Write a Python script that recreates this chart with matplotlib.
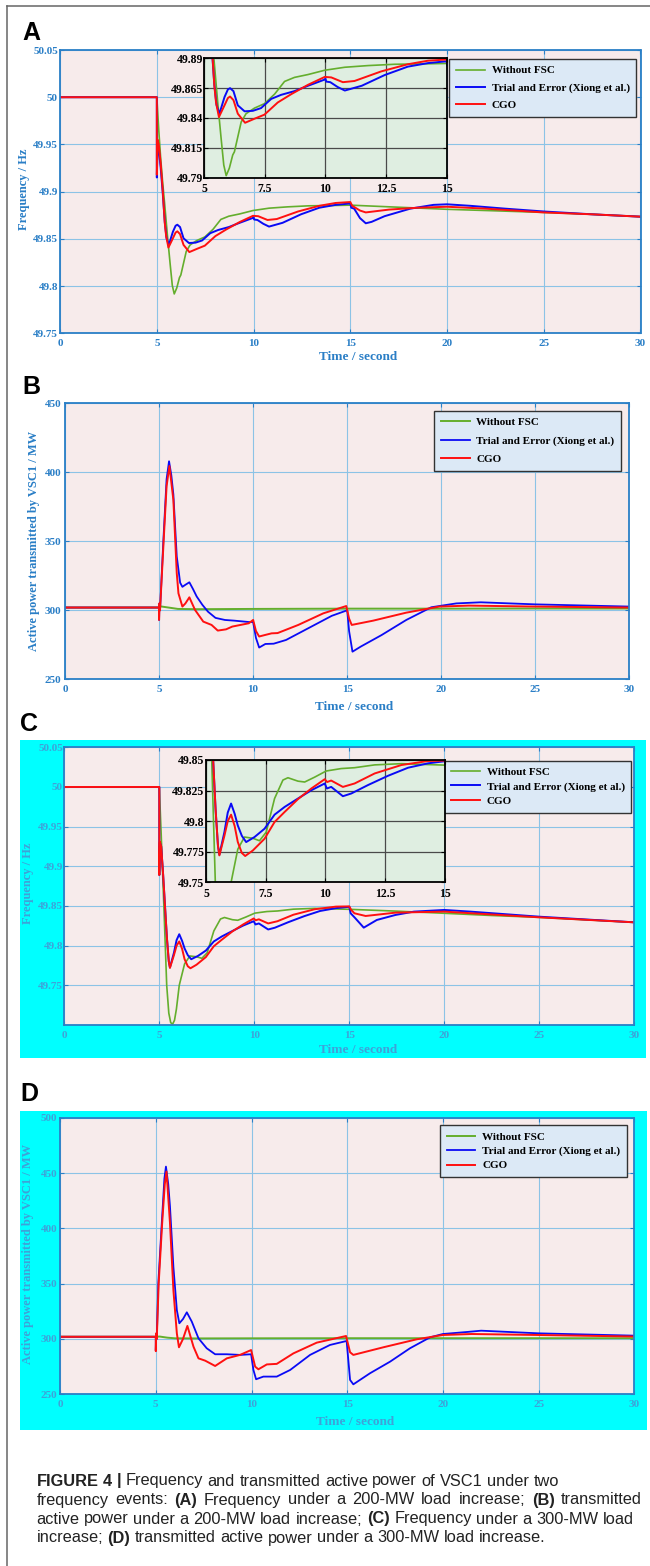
import numpy as np
import matplotlib.pyplot as plt
from matplotlib.patches import Rectangle
from matplotlib.lines import Line2D

W, H = 650, 1566

# ---------------- data ----------------
LEGEND_LABELS = ['Without FSC', 'Trial and Error (Xiong et al.)', 'CGO']
X_TICKS = [0, 5, 10, 15, 20, 25, 30]
INSET_X_TICKS = [5, 7.5, 10, 12.5, 15]
INSET_X_LABELS = ['5', '7.5', '10', '12.5', '15']

# (A) frequency, 200 MW
a_t_green = [0, 5, 5.1, 5.2, 5.3, 5.4, 5.55, 5.69, 5.8, 5.9, 6.03, 6.17, 6.24, 6.52, 6.72, 7.07, 7.48,
             7.9, 8.31, 8.72, 9.28, 9.97, 10.8, 11.76, 12.86, 13.97, 15, 17.5, 20, 22.5, 25, 27.5, 30]
a_green = [50, 50, 49.965, 49.935, 49.91, 49.888, 49.853, 49.823, 49.8006, 49.7917, 49.798, 49.809, 49.8117,
           49.8367, 49.8436, 49.8483, 49.852, 49.860, 49.8706, 49.874, 49.8764, 49.880, 49.8825, 49.8839,
           49.885, 49.8853, 49.8857, 49.8835, 49.8813, 49.8797, 49.878, 49.876, 49.8735]
a_t_blue = [0, 5, 5.0, 5.04, 5.1, 5.2, 5.3, 5.41, 5.5, 5.62, 5.83, 5.97, 6.06, 6.2, 6.38, 6.66, 7.0, 7.34,
            7.76, 8.17, 8.72, 9.28, 9.97, 10.0, 10.03, 10.2, 10.5, 10.8, 11.5, 12.45, 13.4, 14.24, 15.0,
            15.05, 15.2, 15.5, 15.8, 16.1, 16.77, 18.1, 19.3, 20, 21.2, 23, 25, 27.5, 30]
a_blue = [50, 50, 49.915, 49.948, 49.945, 49.925, 49.9, 49.868, 49.851, 49.8436, 49.8575, 49.8639, 49.865,
          49.8625, 49.8506, 49.8456, 49.846, 49.8483, 49.856, 49.8594, 49.8625, 49.867, 49.8722, 49.873,
          49.8705, 49.870, 49.866, 49.863, 49.867, 49.876, 49.883, 49.886, 49.8875, 49.883, 49.882, 49.872,
          49.8665, 49.868, 49.874, 49.882, 49.886, 49.8866, 49.885, 49.882, 49.879, 49.876, 49.8735]
a_t_red = [0, 5, 5.0, 5.04, 5.1, 5.2, 5.3, 5.41, 5.48, 5.6, 5.83, 5.97, 6.06, 6.2, 6.38, 6.68, 7.07, 7.48,
           8.03, 8.59, 9.28, 9.97, 10.24, 10.72, 11.2, 12.3, 13.4, 14.24, 15.0, 15.1, 15.5, 15.8, 16.2,
           17.0, 18.5, 20, 22, 25, 27.5, 30]
a_red = [50, 50, 49.918, 49.955, 49.95, 49.93, 49.903, 49.867, 49.853, 49.8408, 49.8506, 49.8567, 49.858,
         49.855, 49.8436, 49.836, 49.8394, 49.8428, 49.853, 49.860, 49.8678, 49.8744, 49.874, 49.870,
         49.871, 49.879, 49.885, 49.888, 49.889, 49.885, 49.880, 49.878, 49.879, 49.881, 49.883, 49.884,
         49.882, 49.878, 49.876, 49.8735]
a_yticks = [49.75, 49.8, 49.85, 49.9, 49.95, 50, 50.05]
a_ylabels = ['49.75', '49.8', '49.85', '49.9', '49.95', '50', '50.05']
a_inset_yticks = [49.79, 49.815, 49.84, 49.865, 49.89]
a_inset_ylabels = ['49.79', '49.815', '49.84', '49.865', '49.89']

# (B) active power, 200 MW
b_t_green = [0, 5, 5.1, 5.5, 6.0, 7, 10, 15, 20, 25, 30]
b_green = [302, 302, 302.8, 302, 301, 300.8, 301, 301.2, 301.2, 301.3, 301.3]
b_t_blue = [0, 5, 5.0, 5.02, 5.05, 5.23, 5.4, 5.53, 5.65, 5.76, 5.94, 6.12, 6.24, 6.4, 6.61, 6.8, 7.0,
            7.3, 7.6, 8.0, 8.5, 9.0, 9.77, 10.0, 10.15, 10.32, 10.65, 11.09, 11.75, 13.07, 14.18, 15.0,
            15.1, 15.28, 15.72, 16.82, 18.14, 19.47, 20.8, 22.1, 25, 30]
b_blue = [302, 302, 293, 305, 300, 351, 395, 408, 398, 384, 339, 320, 317, 318.5, 320.3, 315.5, 310,
          304, 299, 294.5, 293, 292.5, 291.5, 291.5, 280, 273, 275.6, 275.8, 278.5, 288, 296, 300,
          285, 270, 273.7, 282, 293, 302.2, 305, 305.8, 304.3, 302.7]
b_t_red = [0, 5, 5.0, 5.02, 5.05, 5.25, 5.4, 5.55, 5.76, 5.94, 6.03, 6.24, 6.4, 6.61, 6.91, 7.35, 7.79,
           8.12, 8.56, 8.89, 9.77, 10.0, 10.15, 10.32, 10.6, 10.98, 11.3, 12.4, 13.73, 14.95, 15.1,
           15.24, 16.38, 18.14, 19.9, 21.47, 25, 30]
b_red = [302, 302, 293, 305, 300, 352, 390, 404.6, 380, 327, 312.3, 302.7, 305, 309.4, 300.3, 291.8,
         289.4, 285.3, 286.2, 288.2, 290.6, 293, 285, 281, 282, 283.3, 283.5, 289.4, 297.8, 303.1, 294,
         289.4, 292.5, 298.3, 302.7, 303.4, 302.7, 302]
b_yticks = [250, 300, 350, 400, 450]
b_ylabels = ['250', '300', '350', '400', '450']

# (C) frequency, 300 MW
c_t_green = [0, 5, 5.1, 5.2, 5.24, 5.3, 5.39, 5.5, 5.6, 5.7, 5.8, 5.9, 6.05, 6.33, 6.61, 6.96, 7.24,
             7.52, 7.87, 8.22, 8.43, 8.85, 9.13, 9.55, 10.03, 10.66, 11.22, 12.06, 13.18, 15, 17.5, 20,
             22.5, 25, 27.5, 30]
c_green = [50, 50, 49.94, 49.875, 49.85, 49.81, 49.75, 49.715, 49.703, 49.701, 49.706, 49.72, 49.75,
           49.777, 49.787, 49.786, 49.784, 49.791, 49.8185, 49.8336, 49.8355, 49.8327, 49.832, 49.836,
           49.841, 49.843, 49.8437, 49.846, 49.847, 49.8458, 49.8435, 49.8408, 49.838, 49.8357,
           49.8325, 49.8294]
c_t_blue = [0, 5, 5.0, 5.03, 5.1, 5.2, 5.3, 5.4, 5.5, 5.56, 5.77, 5.91, 6.05, 6.2, 6.33, 6.5, 6.68,
            7.03, 7.45, 7.87, 8.29, 8.85, 9.41, 9.97, 10.06, 10.24, 10.73, 11.08, 11.78, 12.62, 13.46,
            14.3, 15.0, 15.07, 15.3, 15.76, 16.45, 17.43, 18.4, 20, 21.37, 25, 30]
c_blue = [50, 50, 49.889, 49.93, 49.925, 49.89, 49.85, 49.81, 49.78, 49.7725, 49.791, 49.807, 49.8144,
          49.806, 49.7965, 49.788, 49.7829, 49.787, 49.7938, 49.8053, 49.8116, 49.8185, 49.8253,
          49.8308, 49.8267, 49.828, 49.8204, 49.8226, 49.8295, 49.8371, 49.8437, 49.8473, 49.849,
          49.8408, 49.835, 49.8227, 49.8324, 49.8387, 49.8429, 49.845, 49.8429, 49.8365, 49.8294]
c_t_red = [0, 5, 5.0, 5.03, 5.1, 5.2, 5.3, 5.4, 5.5, 5.56, 5.77, 5.91, 6.05, 6.2, 6.33, 6.5, 6.64, 6.96,
           7.45, 7.87, 8.29, 8.85, 9.41, 9.97, 10.07, 10.24, 10.73, 11.22, 12.06, 13.18, 14.3, 15.0,
           15.1, 15.27, 15.86, 17.43, 20, 25, 30]
c_red = [50, 50, 49.889, 49.931, 49.925, 49.89, 49.85, 49.81, 49.78, 49.772, 49.788, 49.8, 49.8053,
         49.796, 49.783, 49.774, 49.7715, 49.776, 49.7856, 49.7993, 49.8075, 49.818, 49.8267, 49.8343,
         49.832, 49.8332, 49.828, 49.8308, 49.839, 49.8459, 49.8492, 49.8495, 49.845, 49.8408,
         49.8374, 49.8416, 49.8429, 49.8357, 49.8294]
c_yticks = [49.75, 49.8, 49.85, 49.9, 49.95, 50, 50.05]
c_ylabels = ['49.75', '49.8', '49.85', '49.9', '49.95', '50', '50.05']
c_inset_yticks = [49.75, 49.775, 49.8, 49.825, 49.85]
c_inset_ylabels = ['49.75', '49.775', '49.8', '49.825', '49.85']

# (D) active power, 300 MW
d_t_green = [0, 5, 5.2, 5.6, 6.0, 7, 10, 15, 20, 25, 30]
d_green = [302, 302, 302.2, 301.2, 300.6, 300.5, 300.6, 300.7, 300.7, 300.7, 300.7]
d_t_blue = [0, 5, 5.0, 5.02, 5.05, 5.13, 5.31, 5.45, 5.53, 5.65, 5.74, 5.92, 6.1, 6.23, 6.42, 6.62,
            6.88, 7.23, 7.66, 8.1, 8.71, 9.4, 9.98, 10.1, 10.24, 10.62, 11.32, 12.02, 13.06, 14.1,
            14.97, 15.15, 15.32, 16.19, 17.24, 18.28, 19.33, 20, 21.24, 22, 25, 30]
d_blue = [302, 302, 289.5, 305, 300, 350, 404, 445, 455.8, 440, 420, 365, 326, 314.2, 318, 324.1,
          315.7, 300.6, 291.6, 286.2, 286.2, 285.6, 286.2, 272, 263.6, 266, 266, 272, 285.6, 294.6,
          298.2, 263, 259, 269, 279.5, 291.6, 301.5, 304.5, 306.3, 307.5, 305.1, 303]
d_t_red = [0, 5, 5.0, 5.02, 5.05, 5.15, 5.33, 5.47, 5.56, 5.74, 5.92, 6.1, 6.21, 6.42, 6.65, 6.97,
           7.23, 7.58, 8.1, 8.71, 9.4, 9.98, 10.19, 10.36, 10.8, 11.32, 12.19, 13.41, 14.94, 15.15,
           15.32, 16.89, 18.63, 20, 21.5, 25, 30]
d_red = [302, 302, 289, 305, 300, 350, 404, 440, 451.3, 405, 344, 305, 292.5, 300, 311.8, 293,
         282.5, 280.4, 275.6, 282.5, 285.6, 290, 275, 272.6, 277, 277.5, 287, 296.7, 302.7, 288,
         285.6, 292.5, 299.7, 303.6, 304.5, 303.6, 302.2]
d_yticks = [250, 300, 350, 400, 450, 500]
d_ylabels = ['250', '300', '350', '400', '450', '500']

CAPTION = [
    [("FIGURE 4 |", True), ("Frequency and transmitted active power of VSC1 under two", False)],
    [("frequency events:", False), ("(A)", True), ("Frequency under a 200-MW load increase;", False),
     ("(B)", True), ("transmitted", False)],
    [("active power under a 200-MW load increase;", False), ("(C)", True),
     ("Frequency under a 300-MW load", False)],
    [("increase;", False), ("(D)", True), ("transmitted active power under a 300-MW load increase.", False)],
]
# right ends of the justified caption lines (None = ragged)
CAPTION_RIGHT = [None, 642, 634, None]

# ---------------- style ----------------
GREEN = '#64ae2d'
BLUE = '#0a0af5'
RED = '#ff1010'
BG = '#f7ebeb'
GRID = '#8cc3e6'
SPINE = '#2a7fc6'
TXT_AB = '#2a7ec6'
TXT_CD = '#3ea2d8'

plt.rcParams['font.family'] = ['Liberation Serif', 'DejaVu Serif']
plt.rcParams['font.weight'] = 'bold'

fig = plt.figure(figsize=(W / 100, H / 100), dpi=100)


def box(l, t, r, b):
    return [l / W, 1 - b / H, (r - l) / W, (b - t) / H]


def fx(x):
    return x / W


def fy(y):
    return 1 - y / H


def curves(ax, series):
    lines = []
    for t, v, c, lw in series:
        ln, = ax.plot(t, v, color=c, lw=lw, solid_joinstyle='round')
        lines.append(ln)
    return lines


def main_panel(rect, ylim, yticks, ylabels, txt, series, xpad=4, ypad=1.5):
    ax = fig.add_axes(box(*rect))
    ax.set_facecolor(BG)
    lines = curves(ax, series)
    ax.set_xlim(0, 30)
    ax.set_ylim(*ylim)
    ax.set_xticks(X_TICKS)
    ax.set_xticklabels([str(x) for x in X_TICKS])
    ax.set_yticks(yticks)
    ax.set_yticklabels(ylabels)
    ax.grid(True, color=GRID, lw=0.8)
    ax.set_axisbelow(True)
    ax.tick_params(direction='in', length=3, width=0.8, color=SPINE, top=True, right=True,
                   labelcolor=txt, labelsize=8)
    ax.tick_params(axis='x', pad=xpad)
    ax.tick_params(axis='y', pad=ypad)
    for s in ax.spines.values():
        s.set_color(SPINE)
        s.set_linewidth(1.3)
    return ax, lines


def inset_panel(rect, ylim, yticks, ylabels, series):
    ax = fig.add_axes(box(*rect))
    ax.set_facecolor('#dfeee1')
    curves(ax, series)
    ax.set_xlim(5, 15)
    ax.set_ylim(*ylim)
    ax.set_xticks(INSET_X_TICKS)
    ax.set_xticklabels(INSET_X_LABELS)
    ax.set_yticks(yticks)
    ax.set_yticklabels(ylabels)
    ax.grid(True, color='#4a4a4a', lw=0.9)
    ax.set_axisbelow(True)
    ax.tick_params(direction='in', length=3, width=0.8, color='k', top=True, right=True,
                   labelcolor='k', labelsize=8.5)
    ax.tick_params(axis='x', pad=4)
    ax.tick_params(axis='y', pad=1)
    for s in ax.spines.values():
        s.set_color('k')
        s.set_linewidth(1.3)
    return ax


def legend(ax, lines, right, top, spacing):
    leg = ax.legend(lines, LEGEND_LABELS, loc='upper right', bbox_to_anchor=(fx(right), fy(top)),
                    bbox_transform=fig.transFigure, borderaxespad=0, fancybox=False, framealpha=1,
                    facecolor='#dce9f6', edgecolor='#333333', handlelength=2.6, handletextpad=0.6,
                    borderpad=0.6, labelspacing=spacing,
                    prop=dict(family='Liberation Serif', weight='bold', size=8))
    leg.get_frame().set_linewidth(1.0)
    leg.set_zorder(10)


def axis_labels(xc, yc, ylabel, xlx, xly, color):
    fig.text(fx(xc), fy(yc), ylabel, rotation=90, ha='center', va='center', fontsize=9,
             color=color, fontweight='bold')
    fig.text(fx(xlx), fy(xly), 'Time / second', ha='center', va='center', fontsize=9.5,
             color=color, fontweight='bold')


def panel_letter(x, y, s):
    fig.text(fx(x), fy(y), s, ha='center', va='center', fontsize=18, fontweight='bold',
             family=['Liberation Sans', 'DejaVu Sans'])


# cyan backgrounds of C and D
for l, t, r, b in [(19.5, 740, 646, 1058), (19.5, 1110.7, 646.8, 1430)]:
    fig.add_artist(Rectangle((fx(l), fy(b)), (r - l) / W, (b - t) / H, transform=fig.transFigure,
                             facecolor='#00ffff', edgecolor='none', zorder=-5))

# frame lines of the page
fig.add_artist(Line2D([fx(7), fx(7)], [fy(6), 0], transform=fig.transFigure, color='#666666', lw=1.1))
fig.add_artist(Line2D([fx(7), 1], [fy(6), fy(6)], transform=fig.transFigure, color='#666666', lw=1.1))

# ---------------- panel A ----------------
ser = [(a_t_green, a_green, GREEN, 1.2), (a_t_blue, a_blue, BLUE, 1.4), (a_t_red, a_red, RED, 1.4)]
ax, lines = main_panel((60.1, 50, 640.5, 333.3), (49.75, 50.05), a_yticks, a_ylabels, TXT_AB, ser)
legend(ax, lines, 636.4, 59, 0.66)
inset_panel((204.4, 58.3, 446.5, 177.7), (49.79, 49.89), a_inset_yticks, a_inset_ylabels, ser)
axis_labels(24, 189, 'Frequency / Hz', 358, 357, TXT_AB)
panel_letter(31.5, 32.5, 'A')

# ---------------- panel B ----------------
ser = [(b_t_green, b_green, GREEN, 1.4), (b_t_blue, b_blue, BLUE, 1.3), (b_t_red, b_red, RED, 1.4)]
ax, lines = main_panel((65, 403.3, 629.4, 679.3), (250, 450), b_yticks, b_ylabels, TXT_AB, ser, ypad=2.5)
legend(ax, lines, 621, 410.7, 0.78)
axis_labels(34, 540.5, 'Active power transmitted by VSC1 / MW', 354.6, 706.7, TXT_AB)
panel_letter(31, 386.5, 'B')

# ---------------- panel C ----------------
ser = [(c_t_green, c_green, GREEN, 1.2), (c_t_blue, c_blue, BLUE, 1.4), (c_t_red, c_red, RED, 1.4)]
ax, lines = main_panel((64.3, 747.3, 634.3, 1025), (49.70, 50.05), c_yticks, c_ylabels, TXT_CD, ser, ypad=1)
legend(ax, lines, 631.4, 760.7, 0.4)
inset_panel((206, 760, 444.9, 882.3), (49.75, 49.85), c_inset_yticks, c_inset_ylabels, ser)
axis_labels(28, 883, 'Frequency / Hz', 358, 1050, TXT_CD)
panel_letter(29, 724, 'C')

# ---------------- panel D ----------------
ser = [(d_t_green, d_green, GREEN, 1.4), (d_t_blue, d_blue, BLUE, 1.3), (d_t_red, d_red, RED, 1.4)]
ax, lines = main_panel((60.1, 1117.7, 634.3, 1394.3), (250, 500), d_yticks, d_ylabels, TXT_CD, ser, ypad=2)
legend(ax, lines, 626.9, 1125.3, 0.4)
axis_labels(28, 1254, 'Active power transmitted by VSC1 / MW', 355, 1421.7, TXT_CD)
panel_letter(29.5, 1094, 'D')

# ---------------- caption ----------------
cap_family = ['Liberation Sans Narrow', 'Liberation Sans', 'DejaVu Sans']
renderer = fig.canvas.get_renderer()
CAP_LEFT = 36.5


def text_width(s, bold, size):
    t = fig.text(0, 0, s, fontsize=size, family=cap_family, fontweight='bold' if bold else 'normal')
    w = t.get_window_extent(renderer).width
    t.remove()
    return w


def line_words(line):
    words = []
    for chunk, bold in line:
        for w in chunk.split(' '):
            words.append((w, bold))
    return words


def space_width(size):
    return text_width('a a', False, size) - text_width('aa', False, size)


def natural_width(words, size):
    return sum(text_width(w, b, size) for w, b in words) + space_width(size) * (len(words) - 1)


# font size: the tightest justified line fits at natural spacing
base = 10.0
ratios = []
for line, right in zip(CAPTION, CAPTION_RIGHT):
    if right is not None:
        ratios.append(natural_width(line_words(line), base) / (right - CAP_LEFT))
cap_size = base / max(ratios)

for i, (line, right) in enumerate(zip(CAPTION, CAPTION_RIGHT)):
    words = line_words(line)
    widths = [text_width(w, b, cap_size) for w, b in words]
    if right is None:
        gap = space_width(cap_size)
    else:
        gap = (right - CAP_LEFT - sum(widths)) / (len(words) - 1)
    x = CAP_LEFT
    y = 1481 + 19 * i
    for (w, b), wd in zip(words, widths):
        fig.text(fx(x), fy(y), w, fontsize=cap_size, family=cap_family,
                 fontweight='bold' if b else 'normal', ha='left', va='center', color='#222222')
        x += wd + gap

fig.savefig('out.png', dpi=100)
